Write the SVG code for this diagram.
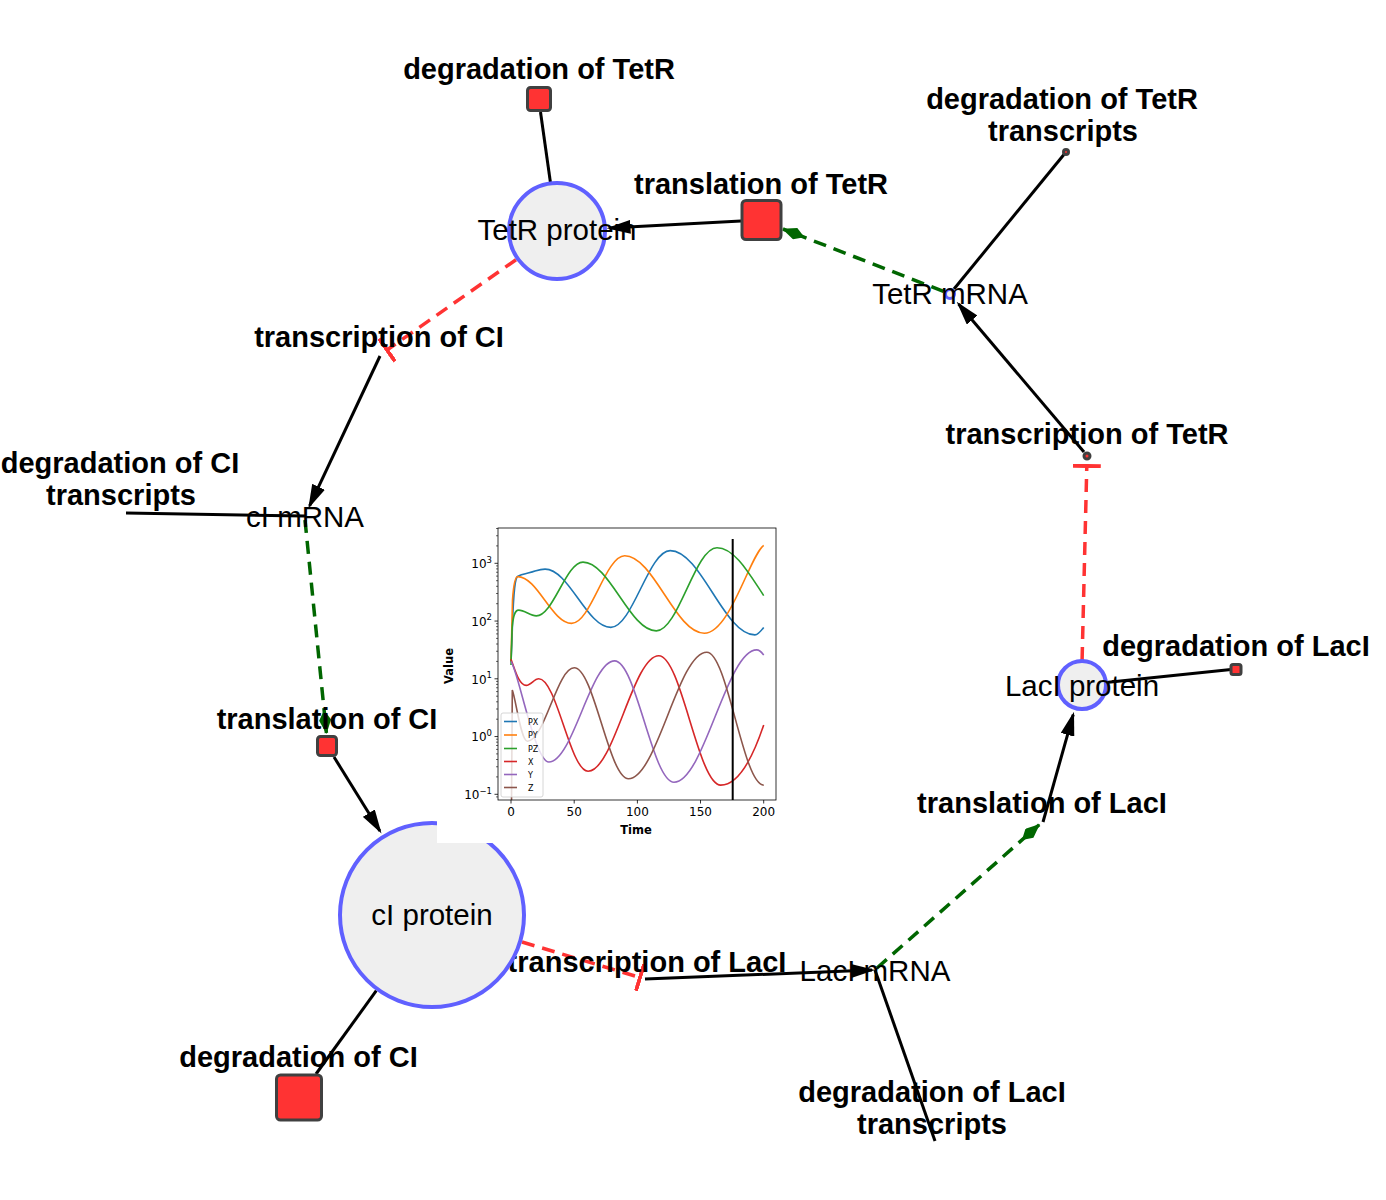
<svg xmlns="http://www.w3.org/2000/svg" width="1386" height="1200" viewBox="0 0 1386 1200">
<style>
.e{stroke:#000;stroke-width:3;fill:none}
.g{stroke:#006600;stroke-width:3.5;fill:none;stroke-dasharray:13 8}
.r{stroke:#ff3333;stroke-width:3.5;fill:none;stroke-dasharray:13 8}
.pc{fill:#efefef;stroke:#6060ff;stroke-width:4}
.sq{fill:#ff3333;stroke:#404040;stroke-width:3}
.dot{fill:#ff3333;stroke:#404040;stroke-width:3}
.lb{font-family:"Liberation Sans",Arial,sans-serif;font-size:29px;font-weight:bold;fill:#000;text-anchor:middle}
.ln{font-family:"Liberation Sans",Arial,sans-serif;font-size:29.5px;fill:#000;text-anchor:middle}
.pt{font-family:"DejaVu Sans",sans-serif;font-size:12px;fill:#000}
.cv{fill:none;stroke-width:1.6}
</style>
<defs>
<marker id="arr" markerUnits="userSpaceOnUse" markerWidth="24" markerHeight="14" viewBox="0 0 24 14" refX="21" refY="7" orient="auto"><path d="M0,0 L24,7 L0,14 z" fill="#000"/></marker>
<marker id="dia" markerUnits="userSpaceOnUse" markerWidth="24" markerHeight="12" viewBox="0 0 24 12" refX="23" refY="6" orient="auto"><path d="M0,6 L10,0 L24,6 L10,12 z" fill="#006600"/></marker>
<marker id="tee" markerUnits="userSpaceOnUse" markerWidth="4" markerHeight="28" viewBox="0 0 4 28" refX="2" refY="14" orient="auto"><rect width="4" height="28" fill="#ff3333"/></marker>
<clipPath id="ax"><rect x="498" y="528" width="278" height="272"/></clipPath>
</defs>

<g id="connectors">
<line class="e" x1="550.5" y1="183" x2="540.5" y2="112"/>
<line class="e" x1="741" y1="221" x2="609.5" y2="228" marker-end="url(#arr)"/>
<line class="g" x1="943.5" y1="291.4" x2="783" y2="229" marker-end="url(#dia)"/>
<line class="e" x1="954" y1="289" x2="1066" y2="152"/>
<line class="e" x1="1084" y1="452" x2="958.6" y2="304" marker-end="url(#arr)"/>
<line class="r" x1="1082.1" y1="660" x2="1086.8" y2="466"/>
<line x1="1082.1" y1="660" x2="1086.8" y2="466" stroke="none" marker-end="url(#tee)"/>
<line class="e" x1="1106" y1="682.5" x2="1231" y2="669.5"/>
<line class="e" x1="1043" y1="822" x2="1073.2" y2="714.6" marker-end="url(#arr)"/>
<line class="g" x1="877" y1="968" x2="1039.2" y2="824.7" marker-end="url(#dia)"/>
<line class="e" x1="645" y1="979" x2="872" y2="970.1" marker-end="url(#arr)"/>
<line class="r" x1="522" y1="942" x2="640" y2="977.5"/>
<line x1="522" y1="942" x2="640" y2="977.5" stroke="none" marker-end="url(#tee)"/>
<line class="e" x1="875" y1="970" x2="935" y2="1141"/>
<line class="e" x1="376.3" y1="990.7" x2="316" y2="1074"/>
<line class="e" x1="334" y1="757" x2="379.9" y2="831" marker-end="url(#arr)"/>
<line class="g" x1="305" y1="520" x2="326.4" y2="733" marker-end="url(#dia)"/>
<line class="e" x1="305" y1="516" x2="126" y2="513"/>
<line class="e" x1="380" y1="356" x2="309.6" y2="505.8" marker-end="url(#arr)"/>
<line class="r" x1="516" y1="259.7" x2="387" y2="350"/>
<line x1="516" y1="259.7" x2="387" y2="350" stroke="none" marker-end="url(#tee)"/>
</g>

<g id="node-tetr-protein">
<circle class="pc" cx="557" cy="231" r="48"/>
<text class="ln" x="557" y="240">TetR protein</text>
</g>
<g id="node-deg-tetr">
<rect class="sq" x="527.5" y="87.5" width="23" height="23" rx="3"/>
<text class="lb" x="539" y="79">degradation of TetR</text>
</g>
<g id="node-transl-tetr">
<rect class="sq" x="742" y="200.5" width="39" height="39" rx="4"/>
<text class="lb" x="761" y="194">translation of TetR</text>
</g>
<g id="node-tetr-mrna">
<circle cx="950" cy="294" r="4.5" fill="#efefef" stroke="#6060ff" stroke-width="3"/>
<text class="ln" x="950" y="304">TetR mRNA</text>
</g>
<g id="node-deg-tetr-tx">
<circle class="dot" cx="1066" cy="152" r="2.5"/>
<text class="lb" x="1062" y="109">degradation of TetR</text>
<text class="lb" x="1063" y="141">transcripts</text>
</g>
<g id="node-transc-tetr">
<circle class="dot" cx="1087" cy="456" r="3"/>
<text class="lb" x="1087" y="444">transcription of TetR</text>
</g>
<g id="node-laci-protein">
<circle class="pc" cx="1082" cy="685" r="24"/>
<text class="ln" x="1082" y="696">LacI protein</text>
</g>
<g id="node-deg-laci">
<rect class="sq" x="1231" y="664.5" width="10" height="10" rx="2"/>
<text class="lb" x="1236" y="656">degradation of LacI</text>
</g>
<g id="node-transl-laci">
<text class="lb" x="1042" y="813">translation of LacI</text>
</g>
<g id="node-laci-mrna">
<text class="ln" x="875" y="981">LacI mRNA</text>
</g>
<g id="node-deg-laci-tx">
<text class="lb" x="932" y="1102">degradation of LacI</text>
<text class="lb" x="932" y="1134">transcripts</text>
</g>
<g id="node-transc-laci">
<text class="lb" x="647" y="972">transcription of LacI</text>
</g>
<g id="node-ci-protein">
<circle class="pc" cx="432" cy="915" r="92"/>
<text class="ln" x="432" y="925">cI protein</text>
</g>
<g id="node-deg-ci">
<rect class="sq" x="276.5" y="1075" width="45" height="45" rx="4"/>
<text class="lb" x="298.5" y="1067">degradation of CI</text>
</g>
<g id="node-transl-ci">
<rect class="sq" x="317.5" y="736.5" width="19" height="19" rx="3"/>
<text class="lb" x="327" y="729">translation of CI</text>
</g>
<g id="node-ci-mrna">
<text class="ln" x="305" y="527">cI mRNA</text>
</g>
<g id="node-deg-ci-tx">
<text class="lb" x="120" y="473">degradation of CI</text>
<text class="lb" x="121" y="505">transcripts</text>
</g>
<g id="node-transc-ci">
<text class="lb" x="379" y="347">transcription of CI</text>
</g>

<g id="plot">
<rect x="437" y="525" width="343" height="318" fill="#fff"/>
<g clip-path="url(#ax)">
<path class="cv" stroke="#1f77b4" d="M511,661.5 L512,640 C513,600 514,580 517.3,576.6 C522,573.5 530,573 535,571 C540,569.5 543,569.1 545.1,569.1 C569,569.1 586.9,627.4 610.8,627.4 C632.4,627.4 648.6,550.6 670.2,550.6 C701,550.6 724.1,634.9 754.9,634.9 C758,634.9 761,631 763.7,627.4"/>
<path class="cv" stroke="#ff7f0e" d="M511,661.5 L512.5,600 C513.5,585 515,576.6 517.7,576.6 C537.3,576.6 552,623.4 571.6,623.4 C590.9,623.4 605.4,555.8 624.7,555.8 C653.6,555.8 675.4,633.2 704.3,633.2 C730,633.2 750,555 763.7,545.4"/>
<path class="cv" stroke="#2ca02c" d="M511,665 L512,630 C513,615 515,610.1 518.6,610.1 C525,610.1 530,615.9 536.3,615.9 C553.3,615.9 566,562.1 583,562.1 C609.6,562.1 629.7,630.9 656.3,630.9 C678.3,630.9 695,547.7 717,547.7 C735,547.7 750,575 763.7,595.6"/>
<path class="cv" stroke="#d62728" d="M511,659.2 C515,670 519,685.4 526.2,685.4 C531,685.4 534,678.8 538.8,678.8 C556.7,678.8 570.2,771.2 588.1,771.2 C613.8,771.2 633.1,655.7 658.8,655.7 C681.3,655.7 698.2,785.1 720.7,785.1 C738,785.1 752,760 763.7,725"/>
<path class="cv" stroke="#9467bd" d="M511,661.5 C518,670 535,762 548.9,762 C572.8,762 590.7,660.9 614.6,660.9 C636.2,660.9 652.4,782.2 674,782.2 C704,782.2 726.7,649.9 756.7,649.9 C759,649.9 761.5,652 763.7,655.1"/>
<path class="cv" stroke="#8c564b" d="M511.5,805 L512.3,690 C516,700 521,741.2 527.4,741.2 C544.4,741.2 557.2,667.8 574.2,667.8 C594,667.8 608.8,778.7 628.5,778.7 C657,778.7 678.3,652.2 706.8,652.2 C727.5,652.2 743,785.1 763.7,785.1"/>
</g>
<line x1="732.7" y1="539" x2="732.7" y2="800" stroke="#000" stroke-width="2"/>
<rect x="498" y="528" width="278" height="272" fill="none" stroke="#000" stroke-width="0.8"/>
<path stroke="#000" stroke-width="0.8" d="M494.5,563.3H498M494.5,621.05H498M494.5,678.8H498M494.5,736.55H498M494.5,794.3H498M511,800V803.5M574.2,800V803.5M637.4,800V803.5M700.5,800V803.5M763.7,800V803.5"/>
<path stroke="#000" stroke-width="0.6" d="M496,796.9H498M496,776.9H498M496,766.75H498M496,759.5H498M496,753.9H498M496,749.4H498M496,745.5H498M496,742.15H498M496,739.2H498M496,719.2H498M496,709H498M496,701.8H498M496,696.2H498M496,691.6H498M496,687.75H498M496,684.4H498M496,681.4H498M496,661.4H498M496,651.25H498M496,644H498M496,638.4H498M496,633.9H498M496,630H498M496,626.65H498M496,623.7H498M496,603.7H498M496,593.5H498M496,586.3H498M496,580.7H498M496,576.1H498M496,572.25H498M496,568.9H498M496,565.9H498M496,545.9H498M496,535.75H498M496,528.5H498"/>
<g class="pt" text-anchor="end">
<text x="492" y="568">10<tspan dy="-5.5" font-size="8.5">3</tspan></text>
<text x="492" y="625.8">10<tspan dy="-5.5" font-size="8.5">2</tspan></text>
<text x="492" y="683.5">10<tspan dy="-5.5" font-size="8.5">1</tspan></text>
<text x="492" y="741.3">10<tspan dy="-5.5" font-size="8.5">0</tspan></text>
<text x="492" y="799">10<tspan dy="-5.5" font-size="8.5">−1</tspan></text>
</g>
<g class="pt" text-anchor="middle">
<text x="511" y="816">0</text>
<text x="574.2" y="816">50</text>
<text x="637.4" y="816">100</text>
<text x="700.5" y="816">150</text>
<text x="763.7" y="816">200</text>
<text x="636" y="834" font-weight="bold" font-size="11.5">Time</text>
<text x="0" y="0" font-weight="bold" font-size="11.5" transform="translate(453,666) rotate(-90)">Value</text>
</g>
<rect x="501" y="713" width="42" height="84" rx="2" fill="#fff" fill-opacity="0.8" stroke="#cccccc" stroke-width="0.8"/>
<g stroke-width="1.6">
<line x1="504" y1="721.5" x2="517" y2="721.5" stroke="#1f77b4"/>
<line x1="504" y1="735" x2="517" y2="735" stroke="#ff7f0e"/>
<line x1="504" y1="748.5" x2="517" y2="748.5" stroke="#2ca02c"/>
<line x1="504" y1="761.5" x2="517" y2="761.5" stroke="#d62728"/>
<line x1="504" y1="774.5" x2="517" y2="774.5" stroke="#9467bd"/>
<line x1="504" y1="787.5" x2="517" y2="787.5" stroke="#8c564b"/>
</g>
<g class="pt">
<text x="528" y="724.5" font-size="8">PX</text>
<text x="528" y="738" font-size="8">PY</text>
<text x="528" y="751.5" font-size="8">PZ</text>
<text x="528" y="764.5" font-size="8">X</text>
<text x="528" y="777.5" font-size="8">Y</text>
<text x="528" y="790.5" font-size="8">Z</text>
</g>
</g>
</svg>
